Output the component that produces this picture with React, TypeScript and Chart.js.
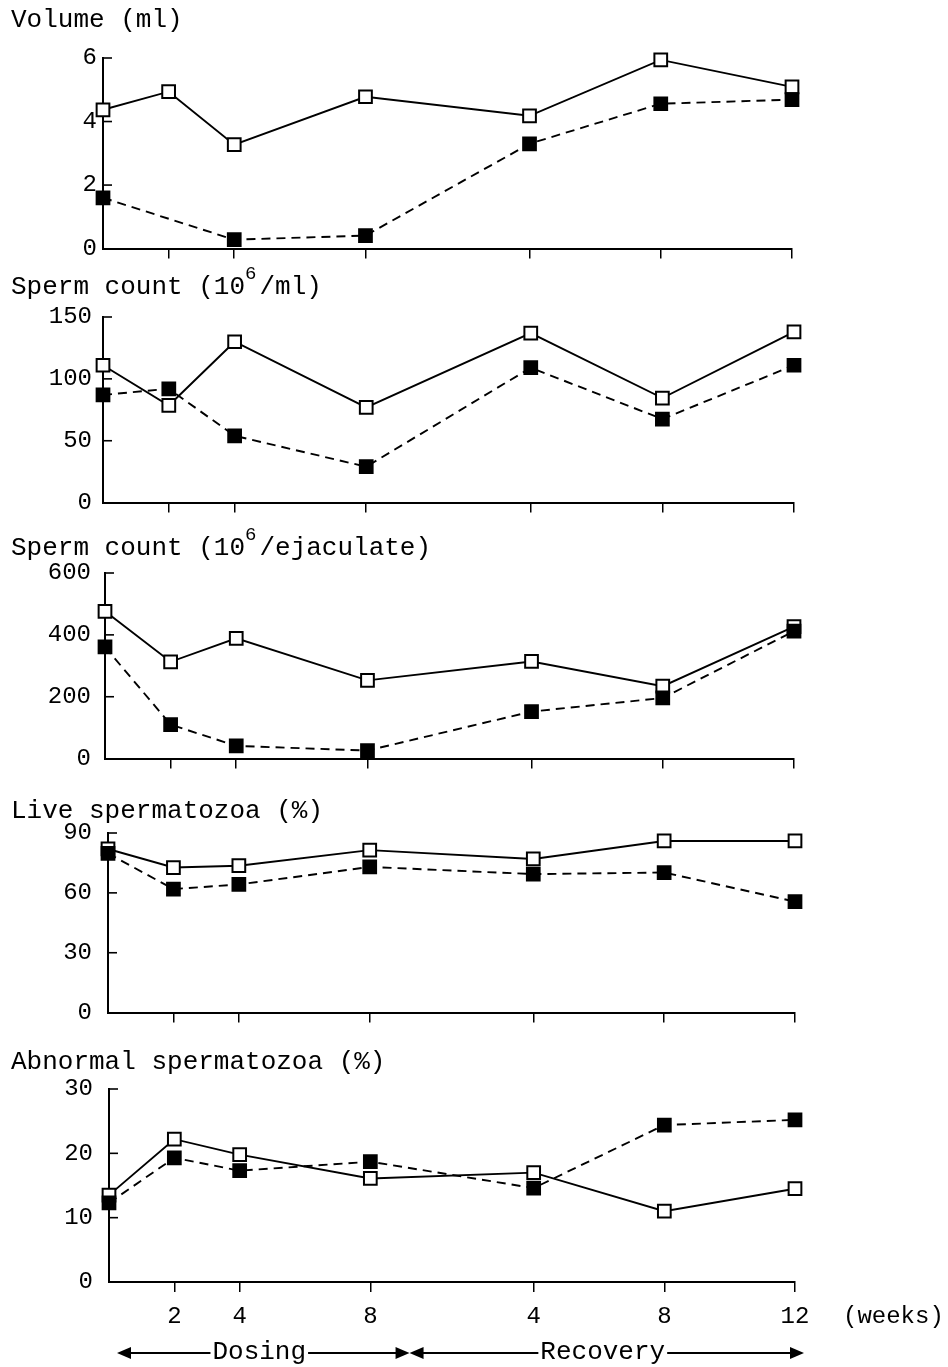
import React, { useEffect, useRef } from "react";
import { Chart, registerables } from "chart.js";

Chart.register(...registerables);

// ---------- data ----------
const timepoints = [
  "Pre-dose",
  "Dosing week 2",
  "Dosing week 4",
  "Dosing week 8",
  "Recovery week 4",
  "Recovery week 8",
  "Recovery week 12",
];
const studyWeek = [0, 2, 4, 8, 13, 17, 21];
const xTickValues = [2, 4, 8, 13, 17, 21];
const xTickLabels = ["2", "4", "8", "4", "8", "12"];
const phaseNames = ["Dosing", "Recovery"];
const phaseBounds = [0, 9.2, 21];

const volumeControl = [4.37, 4.94, 3.27, 4.78, 4.18, 5.94, 5.09];
const volumeTreated = [1.6, null, 0.28, 0.41, 3.3, 4.56, 4.69];

const countMlControl = [111, 78.5, 130, 77, 137, 84.5, 138];
const countMlTreated = [87, 92, 54, 29, 109, 67.5, 111];

const countEjControl = [476, 313, 389, 253, 314, 234, 427];
const countEjTreated = [361, 110, 41, 26, 152, 196, 412];

const liveControl = [82, 72.7, 73.6, 81.4, 77, 86, 86];
const liveTreated = [79.8, 61.9, 64.2, 73, 69.4, 70.2, 55.6];

const abnormalControl = [13.5, 22.2, 19.8, 16.1, 17, 11, 14.5];
const abnormalTreated = [12.3, 19.3, 17.3, 18.7, 14.6, 24.4, 25.2];

// ---------- layout / style ----------
const FONT = "'Liberation Mono', 'DejaVu Sans Mono', monospace";
const TOP_PAD = 55;

type Part = { text: string; sup?: boolean };
type Panel = {
  title: Part[];
  control: (number | null)[];
  treated: (number | null)[];
  max: number;
  step: number;
  plotTop: number;
  plotBottom: number;
  titleY: number;
  left: number;
  right: number;
  labelPad: number;
};

const panels: Panel[] = [
  {
    title: [{ text: "Volume (ml)" }],
    control: volumeControl,
    treated: volumeTreated,
    max: 6,
    step: 2,
    plotTop: 58,
    plotBottom: 249,
    titleY: 20,
    left: 103,
    right: 792,
    labelPad: 6,
  },
  {
    title: [{ text: "Sperm count (10" }, { text: "6", sup: true }, { text: "/ml)" }],
    control: countMlControl,
    treated: countMlTreated,
    max: 150,
    step: 50,
    plotTop: 317,
    plotBottom: 508,
    titleY: 287,
    left: 103,
    right: 794,
    labelPad: 11,
  },
  {
    title: [{ text: "Sperm count (10" }, { text: "6", sup: true }, { text: "/ejaculate)" }],
    control: countEjControl,
    treated: countEjTreated,
    max: 600,
    step: 200,
    plotTop: 573,
    plotBottom: 767,
    titleY: 548,
    left: 105,
    right: 794,
    labelPad: 14,
  },
  {
    title: [{ text: "Live spermatozoa (%)" }],
    control: liveControl,
    treated: liveTreated,
    max: 90,
    step: 30,
    plotTop: 833,
    plotBottom: 1023,
    titleY: 811,
    left: 108,
    right: 795,
    labelPad: 16,
  },
  {
    title: [{ text: "Abnormal spermatozoa (%)" }],
    control: abnormalControl,
    treated: abnormalTreated,
    max: 30,
    step: 10,
    plotTop: 1089,
    plotBottom: 1282,
    titleY: 1062,
    left: 109,
    right: 795,
    labelPad: 16,
  },
];

const PAGE_H = 1367;

function arrowHead(ctx: CanvasRenderingContext2D, tipX: number, y: number, dir: number) {
  ctx.beginPath();
  ctx.moveTo(tipX, y);
  ctx.lineTo(tipX - dir * 14, y - 6);
  ctx.lineTo(tipX - dir * 14, y + 6);
  ctx.closePath();
  ctx.fill();
}

function makeDecor(panel: Panel, canvasTop: number, isLast: boolean) {
  return {
    id: "decor",
    afterDraw(chart: any) {
      const ctx: CanvasRenderingContext2D = chart.ctx;
      const { left, bottom } = chart.chartArea;
      const ys = chart.scales.y;
      const xs = chart.scales.x;
      ctx.save();
      ctx.strokeStyle = "#000";
      ctx.fillStyle = "#000";
      // inward y tick marks
      ctx.lineWidth = 1.6;
      ys.ticks.forEach((t: any) => {
        if (t.value === 0) return;
        const py = ys.getPixelForValue(t.value);
        ctx.beginPath();
        ctx.moveTo(left, py);
        ctx.lineTo(left + 9, py);
        ctx.stroke();
      });
      // title
      ctx.textBaseline = "middle";
      ctx.textAlign = "left";
      let x = 11;
      const ty = panel.titleY - canvasTop;
      panel.title.forEach((p) => {
        ctx.font = p.sup ? `19px ${FONT}` : `26px ${FONT}`;
        ctx.fillText(p.text, x, p.sup ? ty - 13 : ty);
        x += ctx.measureText(p.text).width + (p.sup ? 3 : 0);
      });
      if (isLast) {
        // (weeks)
        ctx.font = `24px ${FONT}`;
        ctx.textAlign = "left";
        ctx.fillText("(weeks)", xs.getPixelForValue(21) + 48, bottom + 35);
        // phase arrows
        const ay = bottom + 71;
        ctx.lineWidth = 2;
        phaseNames.forEach((name, i) => {
          const first = i === 0;
          const last = i === phaseNames.length - 1;
          const x0 = xs.getPixelForValue(phaseBounds[i]) + (first ? 8 : 0);
          const x1 = xs.getPixelForValue(phaseBounds[i + 1]) + (last ? 9 : 0);
          ctx.beginPath();
          ctx.moveTo(x0 + 4, ay);
          ctx.lineTo(x1 - 4, ay);
          ctx.stroke();
          arrowHead(ctx, x0, ay, -1);
          arrowHead(ctx, x1, ay, 1);
          ctx.font = `26px ${FONT}`;
          const w = ctx.measureText(name).width;
          const cx = (x0 + x1) / 2 - 4;
          ctx.fillStyle = "#fff";
          ctx.fillRect(cx - w / 2 - 2, ay - 10, w + 4, 20);
          ctx.fillStyle = "#000";
          ctx.textAlign = "center";
          ctx.fillText(name, cx, ay - 1);
        });
      }
      ctx.restore();
    },
  };
}

function PanelChart({ panel, isLast }: { panel: Panel; isLast: boolean }) {
  const ref = useRef<HTMLCanvasElement | null>(null);
  const canvasTop = panel.plotTop - TOP_PAD;
  const xAxisH = isLast ? PAGE_H - panel.plotBottom : 20;
  const height = TOP_PAD + (panel.plotBottom - panel.plotTop) + xAxisH;

  useEffect(() => {
    if (!ref.current) return;
    const toPoints = (arr: (number | null)[]) =>
      studyWeek.map((w, i) => ({ x: w, y: arr[i] }));
    const chart = new Chart(ref.current, {
      type: "line",
      data: {
        labels: timepoints,
        datasets: [
          {
            label: "Treated",
            data: toPoints(panel.treated) as any,
            borderColor: "#000",
            borderWidth: 1.9,
            borderDash: [9, 6],
            pointStyle: "rect",
            pointRadius: 9,
            pointBackgroundColor: "#000",
            pointBorderColor: "#000",
            pointBorderWidth: 2,
            tension: 0,
            spanGaps: true,
            clip: false as any,
          },
          {
            label: "Control",
            data: toPoints(panel.control) as any,
            borderColor: "#000",
            borderWidth: 1.9,
            pointStyle: "rect",
            pointRadius: 9,
            pointBackgroundColor: "#fff",
            pointBorderColor: "#000",
            pointBorderWidth: 2,
            tension: 0,
            spanGaps: true,
            clip: false as any,
          },
        ],
      },
      options: {
        animation: false,
        responsive: false,
        devicePixelRatio: 1,
        events: [],
        layout: { padding: { top: TOP_PAD, left: 0, right: 948 - panel.right, bottom: 0 } },
        plugins: {
          legend: { display: false },
          tooltip: { enabled: false },
          title: { display: false },
        },
        scales: {
          x: {
            type: "linear",
            min: 0,
            max: 21,
            afterBuildTicks: (s: any) => {
              s.ticks = xTickValues.map((v) => ({ value: v }));
            },
            afterFit: (s: any) => {
              s.height = xAxisH;
            },
            ticks: {
              display: isLast,
              autoSkip: false,
              maxRotation: 0,
              padding: 10,
              color: "#000",
              font: { family: FONT, size: 24 },
              callback: (_v: any, i: number) => xTickLabels[i],
            },
            grid: {
              drawOnChartArea: false,
              drawTicks: true,
              tickLength: 10,
              color: "#000",
              lineWidth: 1.5,
            },
            border: { display: true, color: "#000", width: 2 },
          },
          y: {
            type: "linear",
            min: 0,
            max: panel.max,
            afterFit: (s: any) => {
              s.width = panel.left;
            },
            ticks: {
              stepSize: panel.step,
              padding: panel.labelPad,
              color: "#000",
              font: { family: FONT, size: 24 },
            },
            grid: { drawOnChartArea: false, drawTicks: false },
            border: { display: true, color: "#000", width: 2 },
          },
        },
      } as any,
      plugins: [makeDecor(panel, canvasTop, isLast)],
    });
    return () => chart.destroy();
  }, [panel, isLast]);

  return (
    <canvas
      ref={ref}
      width={948}
      height={height}
      style={{ position: "absolute", left: 0, top: canvasTop, width: 948, height }}
    />
  );
}

export default function App() {
  return (
    <div
      style={{
        position: "absolute",
        left: 0,
        top: 0,
        width: 948,
        height: PAGE_H,
        background: "#fff",
        overflow: "hidden",
      }}
    >
      {panels.map((p, i) => (
        <PanelChart key={i} panel={p} isLast={i === panels.length - 1} />
      ))}
    </div>
  );
}
